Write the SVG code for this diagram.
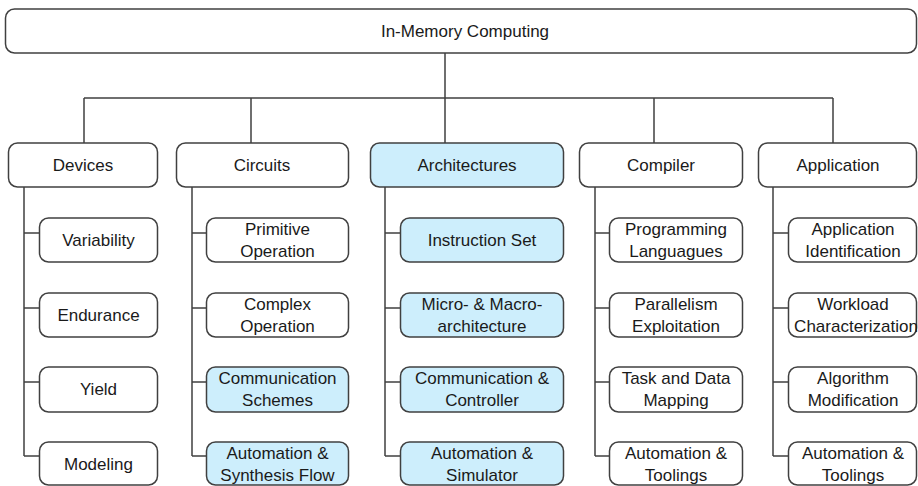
<svg xmlns="http://www.w3.org/2000/svg" width="918" height="486" viewBox="0 0 918 486">
  <style>
    .box { fill: #ffffff; stroke: #404040; stroke-width: 1.5; }
    .hl { fill: #cdeefc; }
    .lbl { font-family: "Liberation Sans", Arial, sans-serif; font-size: 17px; fill: #1a1a1a; text-anchor: middle; }
    .wire { fill: none; stroke: #404040; stroke-width: 1.5; }
  </style>

  <!-- connectors -->
  <g id="connectors">
    <path class="wire" d="M445,53 V98 M84,98 H833 M84,98 V143 M251,98 V143 M445,98 V143 M654,98 V143 M833,98 V143"/>
    <path class="wire" d="M24,187 V456 M24,233 H39 M24,308 H39 M24,382 H39 M24,456 H39"/>
    <path class="wire" d="M192,187 V456 M192,233 H206 M192,308 H206 M192,382 H206 M192,456 H206"/>
    <path class="wire" d="M385,187 V456 M385,233 H400 M385,308 H400 M385,382 H400 M385,456 H400"/>
    <path class="wire" d="M595,187 V456 M595,233 H609 M595,308 H609 M595,382 H609 M595,456 H609"/>
    <path class="wire" d="M773,187 V456 M773,233 H788 M773,308 H788 M773,382 H788 M773,456 H788"/>
  </g>

  <!-- root -->
  <g id="root">
    <rect class="box" x="5.5" y="9" width="911" height="44" rx="9"/>
    <text class="lbl" x="465" y="37">In-Memory Computing</text>
  </g>

  <!-- level 1 -->
  <g id="devices">
    <rect class="box" x="8.5" y="143" width="149" height="44" rx="9"/>
    <text class="lbl" x="83" y="171">Devices</text>
  </g>
  <g id="circuits">
    <rect class="box" x="176.5" y="143" width="172" height="44" rx="9"/>
    <text class="lbl" x="262" y="171">Circuits</text>
  </g>
  <g id="architectures">
    <rect class="box hl" x="370.5" y="143" width="193" height="44" rx="9"/>
    <text class="lbl" x="467" y="171">Architectures</text>
  </g>
  <g id="compiler">
    <rect class="box" x="579.5" y="143" width="163" height="44" rx="9"/>
    <text class="lbl" x="661" y="171">Compiler</text>
  </g>
  <g id="application">
    <rect class="box" x="758.5" y="143" width="158" height="44" rx="9"/>
    <text class="lbl" x="838" y="171">Application</text>
  </g>

  <!-- devices column -->
  <g id="variability">
    <rect class="box" x="39.5" y="218" width="118" height="44" rx="9"/>
    <text class="lbl" x="98.5" y="246">Variability</text>
  </g>
  <g id="endurance">
    <rect class="box" x="39.5" y="293" width="118" height="44" rx="9"/>
    <text class="lbl" x="98.5" y="321">Endurance</text>
  </g>
  <g id="yield">
    <rect class="box" x="39.5" y="367" width="118" height="45" rx="9"/>
    <text class="lbl" x="98.5" y="395">Yield</text>
  </g>
  <g id="modeling">
    <rect class="box" x="39.5" y="442" width="118" height="43" rx="9"/>
    <text class="lbl" x="98.5" y="470">Modeling</text>
  </g>

  <!-- circuits column -->
  <g id="primitive-operation">
    <rect class="box" x="206.5" y="218" width="142" height="44" rx="9"/>
    <text class="lbl" x="277.5" y="235">Primitive</text>
    <text class="lbl" x="277.5" y="257">Operation</text>
  </g>
  <g id="complex-operation">
    <rect class="box" x="206.5" y="293" width="142" height="44" rx="9"/>
    <text class="lbl" x="277.5" y="310">Complex</text>
    <text class="lbl" x="277.5" y="332">Operation</text>
  </g>
  <g id="communication-schemes">
    <rect class="box hl" x="206.5" y="367" width="142" height="45" rx="9"/>
    <text class="lbl" x="277.5" y="384">Communication</text>
    <text class="lbl" x="277.5" y="406">Schemes</text>
  </g>
  <g id="automation-synthesis">
    <rect class="box hl" x="206.5" y="442" width="142" height="43" rx="9"/>
    <text class="lbl" x="277.5" y="459">Automation &amp;</text>
    <text class="lbl" x="277.5" y="481">Synthesis Flow</text>
  </g>

  <!-- architectures column -->
  <g id="instruction-set">
    <rect class="box hl" x="400.5" y="218" width="163" height="44" rx="9"/>
    <text class="lbl" x="482" y="246">Instruction Set</text>
  </g>
  <g id="micro-macro">
    <rect class="box hl" x="400.5" y="293" width="163" height="44" rx="9"/>
    <text class="lbl" x="482" y="310">Micro- &amp; Macro-</text>
    <text class="lbl" x="482" y="332">architecture</text>
  </g>
  <g id="communication-controller">
    <rect class="box hl" x="400.5" y="367" width="163" height="45" rx="9"/>
    <text class="lbl" x="482" y="384">Communication &amp;</text>
    <text class="lbl" x="482" y="406">Controller</text>
  </g>
  <g id="automation-simulator">
    <rect class="box hl" x="400.5" y="442" width="163" height="43" rx="9"/>
    <text class="lbl" x="482" y="459">Automation &amp;</text>
    <text class="lbl" x="482" y="481">Simulator</text>
  </g>

  <!-- compiler column -->
  <g id="programming-languages">
    <rect class="box" x="609.5" y="218" width="133" height="44" rx="9"/>
    <text class="lbl" x="676" y="235">Programming</text>
    <text class="lbl" x="676" y="257">Languagues</text>
  </g>
  <g id="parallelism">
    <rect class="box" x="609.5" y="293" width="133" height="44" rx="9"/>
    <text class="lbl" x="676" y="310">Parallelism</text>
    <text class="lbl" x="676" y="332">Exploitation</text>
  </g>
  <g id="task-data-mapping">
    <rect class="box" x="609.5" y="367" width="133" height="45" rx="9"/>
    <text class="lbl" x="676" y="384">Task and Data</text>
    <text class="lbl" x="676" y="406">Mapping</text>
  </g>
  <g id="compiler-tooling">
    <rect class="box" x="609.5" y="442" width="133" height="43" rx="9"/>
    <text class="lbl" x="676" y="459">Automation &amp;</text>
    <text class="lbl" x="676" y="481">Toolings</text>
  </g>

  <!-- application column -->
  <g id="app-identification">
    <rect class="box" x="788.5" y="218" width="128" height="44" rx="9"/>
    <text class="lbl" x="853" y="235">Application</text>
    <text class="lbl" x="853" y="257">Identification</text>
  </g>
  <g id="workload">
    <rect class="box" x="788.5" y="293" width="128" height="44" rx="9"/>
    <text class="lbl" x="853" y="310">Workload</text>
    <text class="lbl" x="856" y="332">Characterization</text>
  </g>
  <g id="algorithm-modification">
    <rect class="box" x="788.5" y="367" width="128" height="45" rx="9"/>
    <text class="lbl" x="853" y="384">Algorithm</text>
    <text class="lbl" x="853" y="406">Modification</text>
  </g>
  <g id="app-tooling">
    <rect class="box" x="788.5" y="442" width="128" height="43" rx="9"/>
    <text class="lbl" x="853" y="459">Automation &amp;</text>
    <text class="lbl" x="853" y="481">Toolings</text>
  </g>
</svg>
